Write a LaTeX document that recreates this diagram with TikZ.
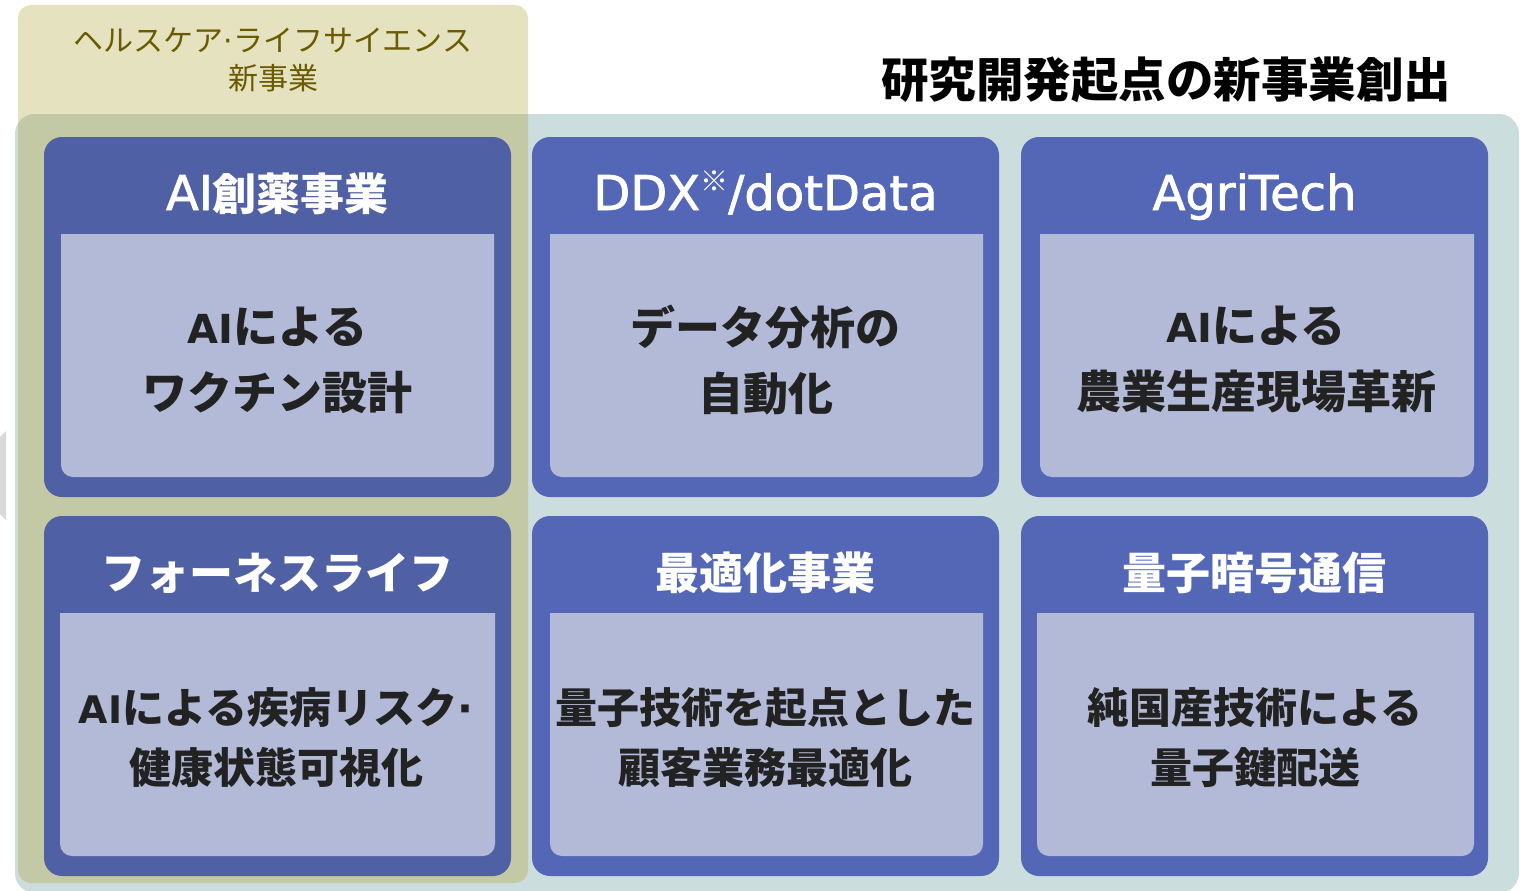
\documentclass[tikz,border=0pt]{standalone}
\usepackage{fontspec}
\setmainfont{Noto Sans CJK JP}
\newfontfamily\lat{DejaVu Sans}
\newfontfamily\latmed[FakeBold=1.6]{DejaVu Sans}
\definecolor{bggray}{HTML}{CBDDDC}
\definecolor{ylw}{HTML}{E5E2C0}
\definecolor{ylwover}{HTML}{C2C9A4}
\definecolor{cardA}{HTML}{4F60A5}
\definecolor{cardB}{HTML}{5367B6}
\definecolor{panel}{HTML}{B3BAD8}
\definecolor{olivetext}{HTML}{6B5A00}
\definecolor{bodytext}{HTML}{222222}
\definecolor{tipgray}{HTML}{D9D9D9}
\tikzset{
  cardbox/.style={inner sep=0pt, rounded corners=18pt, minimum width=467pt, minimum height=360pt},
  titletext/.style={text=white, inner sep=0pt, anchor=base, font=\bfseries\fontsize{44}{50}\selectfont},
  bodyA/.style={text=bodytext, align=center, inner sep=0pt, font=\bfseries\fontsize{45}{66}\selectfont},
  bodyB/.style={text=bodytext, align=center, inner sep=0pt, font=\bfseries\fontsize{42}{60}\selectfont},
}
\newcommand{\panelshape}[4]{\fill[panel] (#1,#2) [rounded corners=12pt] -- (#1,#4) -- (#3,#4) [sharp corners] -- (#3,#2) -- cycle;}
\newcommand{\TL}[1]{{\latmed\mdseries\fontsize{48}{50}\selectfont #1}}
\newcommand{\BLa}[1]{{\lat\bfseries\fontsize{40}{66}\selectfont #1}}
\newcommand{\BLb}[1]{{\lat\bfseries\fontsize{38}{60}\selectfont #1}}
\begin{document}
\begin{tikzpicture}[x=1pt,y=-1pt]
\useasboundingbox (0,0) rectangle (1524,891);
% left edge grey tip
\fill[tipgray] (0,437) -- (6,431) -- (6,520) -- (0,514) -- cycle;
% backgrounds
\fill[bggray, rounded corners=20pt] (15,114) rectangle (1519,893);
\fill[ylw, rounded corners=13pt] (18,5) rectangle (528,883);
\begin{scope}
  \clip[rounded corners=20pt] (15,114) rectangle (1519,893);
  \fill[ylwover, rounded corners=13pt] (18,5) rectangle (528,883);
\end{scope}
% labels
\node[text=olivetext, align=center, inner sep=0pt, font=\fontsize{30}{38}\selectfont] (hl) at (273,60) {ヘルスケア{\lat ·}ライフサイエンス\\新事業};
\node[text=black, inner sep=0pt, font=\bfseries\fontsize{47.5}{50}\selectfont] (head) at (1166,80) {研究開発起点の新事業創出};
% cards
\node[cardbox, fill=cardA] (c1) at (277.5,317) {};
\node[cardbox, fill=cardB] (c2) at (765.5,317) {};
\node[cardbox, fill=cardB] (c3) at (1254.5,317) {};
\node[cardbox, fill=cardA] (c4) at (277.5,696) {};
\node[cardbox, fill=cardB] (c5) at (765.5,696) {};
\node[cardbox, fill=cardB] (c6) at (1254.5,696) {};
% panels
\panelshape{61}{234}{494}{477}
\panelshape{550}{234}{983}{477}
\panelshape{1040}{234}{1474}{477}
\panelshape{60}{613}{495}{856}
\panelshape{550}{613}{983}{856}
\panelshape{1037}{613}{1474}{856}
% titles
\node[titletext] (t1) at (277.5,210) {\TL{AI}創薬事業};
\node[titletext] (t2) at (765.5,210) {\TL{DDX}\raisebox{0.42em}{\mdseries\fontsize{28}{28}\selectfont ※}\TL{/dotData}};
\node[titletext] (t3) at (1254.5,210) {\TL{AgriTech}};
\node[titletext] (t4) at (277.5,589) {フォーネスライフ};
\node[titletext] (t5) at (765.5,589) {最適化事業};
\node[titletext] (t6) at (1254.5,589) {量子暗号通信};
% bodies
\node[bodyA] (b1) at (277.5,360) {\BLa{AI}による\\ワクチン設計};
\node[bodyA] (b2) at (765.5,360) {データ分析の\\自動化};
\node[bodyA] (b3) at (1256,360) {\BLa{AI}による\\農業生産現場革新};
\node[bodyB] (b4) at (276,738) {\BLb{AI}による疾病リスク{\lat\bfseries ·}\\健康状態可視化};
\node[bodyB] (b5) at (765.5,738) {量子技術を起点とした\\顧客業務最適化};
\node[bodyB] (b6) at (1255,738) {純国産技術による\\量子鍵配送};
\end{tikzpicture}
\end{document}
